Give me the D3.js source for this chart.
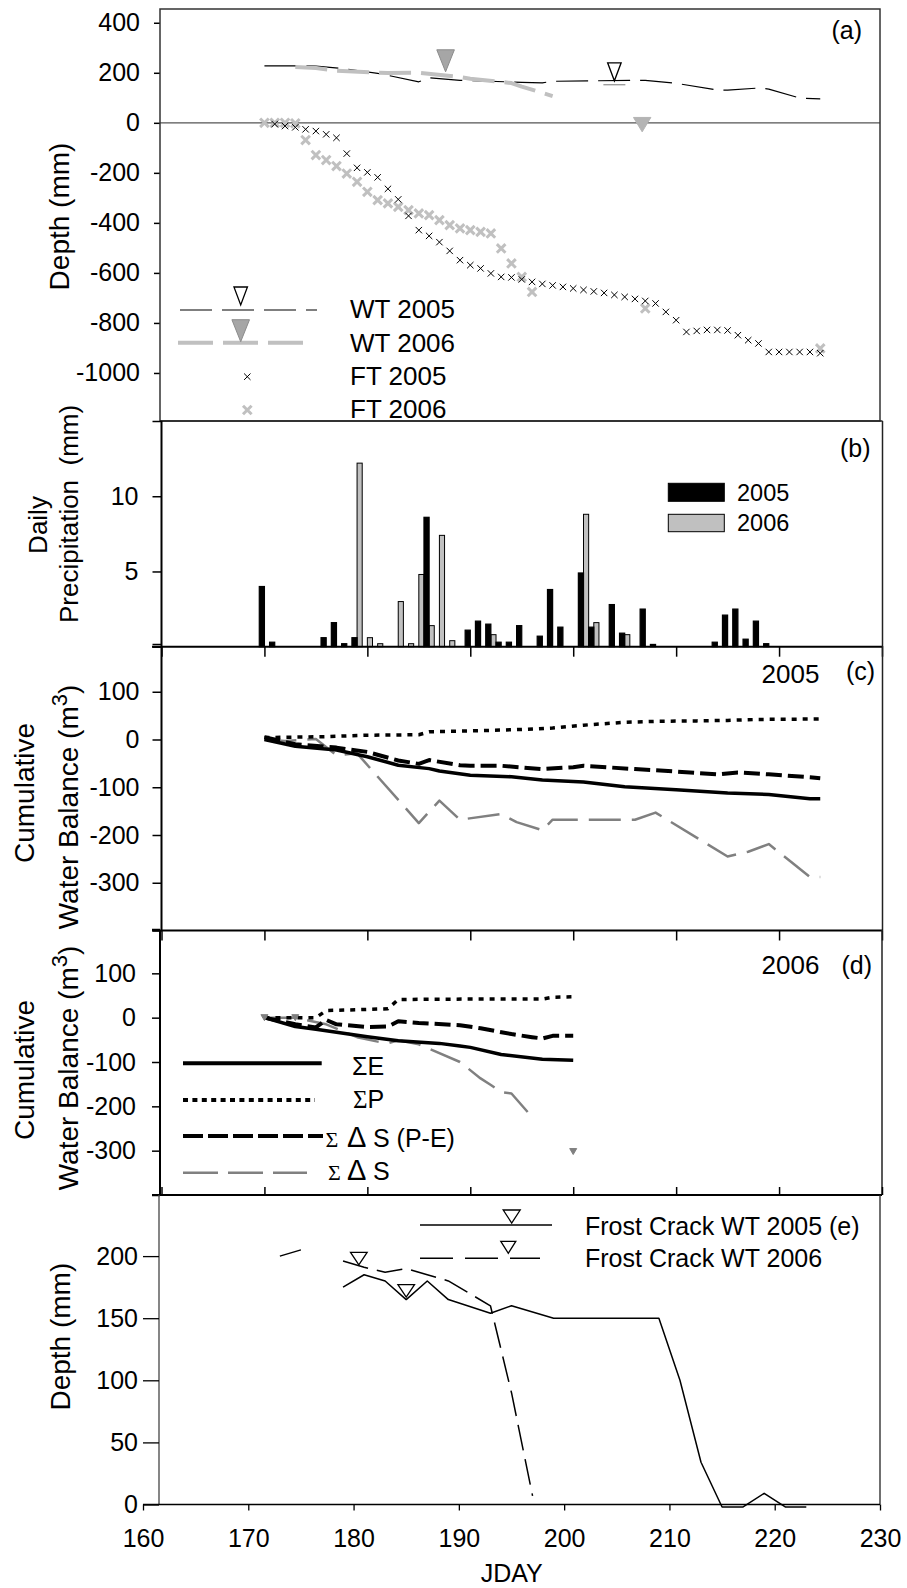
<!DOCTYPE html>
<html>
<head>
<meta charset="utf-8">
<script src="https://cdn.jsdelivr.net/npm/d3@7"></script>
<style>
  body { margin: 0; background: #fff; }
  text { font-family: "Liberation Sans", Arial, Helvetica, sans-serif; }
</style>
</head>
<body>
<svg id="chart"></svg>
<script>
// ---------- data (JDAY, values) ----------
// (a) water table (mm above frost table datum) and frost table depth
const wt05Days = [170, 172, 175, 178, 181, 185, 186, 189, 195, 197, 198, 202, 207, 210, 214, 215, 218, 219, 222, 224];
const wt05 = [228, 228, 227, 215, 198, 164, 180, 170, 162, 160, 166, 168, 170, 158, 131, 131, 139, 135, 99, 96];
const wt06Days = [173, 175, 177, 182, 185, 189, 190, 194, 195, 198];
const wt06 = [223, 219, 208, 199, 200, 183, 176, 159, 145, 107];
const ft05Days = [171, 172, 173, 174, 175, 176, 177, 178, 179, 180, 181, 182, 183, 184, 185, 186, 187, 188, 189, 190,
  191, 192, 193, 194, 195, 196, 197, 198, 199, 200, 201, 202, 203, 204, 205, 206, 207, 208, 209, 210,
  211, 212, 213, 214, 215, 216, 217, 218, 219, 220, 221, 222, 223, 224];
const ft05 = [-5, -13, -18, -26, -33, -46, -60, -123, -180, -198, -218, -264, -306, -372, -429, -452, -477, -512, -549, -569,
  -582, -602, -616, -618, -626, -636, -644, -650, -656, -662, -668, -674, -680, -688, -696, -704, -712, -722, -756, -789,
  -836, -832, -828, -828, -830, -849, -869, -882, -916, -916, -916, -916, -916, -921];
const ft06Days = [170, 171, 172, 173, 174, 175, 176, 177, 178, 179, 180, 181, 182, 183, 184, 185, 186, 187, 188, 189,
  190, 191, 192, 193, 194, 195, 196, 207, 224];
const ft06 = [0, 0, 0, -2, -69, -129, -149, -173, -203, -236, -276, -309, -322, -336, -349, -362, -369, -389, -409, -422,
  -429, -436, -442, -502, -562, -616, -676, -742, -902];
const wtMark05Days = [204];
const wtMark05 = [168];
const wtMark06Days = [187.6];
const wtMark06 = [204];
const ftMarkDays = [206.7];
const ftMark = [-36];

// (b) daily precipitation (mm)
const rain05Days = [170, 171, 176, 177, 178, 179, 186, 190, 191, 192, 193, 194, 195, 197, 198, 199, 201, 202, 204, 205,
  207, 208, 214, 215, 216, 217, 218, 219];
const rain05 = [4.0, 0.3, 0.6, 1.6, 0.2, 0.6, 8.6, 1.1, 1.7, 1.5, 0.3, 0.3, 1.4, 0.7, 3.8, 1.3, 4.9, 1.3, 2.8, 0.9,
  2.5, 0.15, 0.3, 2.1, 2.5, 0.5, 1.7, 0.2];
const rain06Days = [179, 180, 181, 183, 184, 185, 186, 187, 188, 192, 201, 202, 205];
const rain06 = [12.2, 0.6, 0.2, 3.0, 0.2, 4.8, 1.4, 7.4, 0.4, 0.8, 8.8, 1.6, 0.8];

// (c) cumulative water balance 2005 (m3)
const sE05Days = [170, 173, 177, 180, 183, 186, 187, 190, 194, 197, 201, 205, 210, 215, 219, 223, 224];
const sE05 = [0, -14, -22, -36, -54, -61, -66, -75, -78, -85, -89, -99, -105, -112, -115, -124, -124];
const sP05Days = [170, 176, 180, 185, 186, 190, 195, 198, 201, 203, 205, 208, 212, 215, 218, 224];
const sP05 = [4, 6, 9, 10, 16, 18, 21, 24, 30, 33, 36, 38, 39, 40, 42, 43];
const sPE05Days = [170, 173, 177, 180, 183, 185, 186, 189, 190, 193, 197, 200, 201, 206, 210, 214, 216, 219, 223, 224];
const sPE05 = [5, -10, -17, -26, -44, -51, -43, -54, -55, -55, -62, -58, -55, -62, -67, -73, -69, -73, -79, -81];
const sS05Days = [170, 172, 175, 177, 179, 185, 187, 189, 193, 194.5, 197, 198, 206, 208, 215, 217, 219, 223, 224];
const sS05 = [0, -3, 1, -33, -29, -175, -128, -168, -156, -173, -190, -168, -168, -153, -245, -235, -219, -288, -288];

// (d) cumulative water balance 2006 (m3)
const sE06Days = [170, 173, 175, 180, 183, 187, 189, 190, 193, 197, 200];
const sE06 = [0, -20, -26, -43, -52, -58, -64, -67, -83, -94, -96];
const sP06Days = [170, 175, 176, 182, 183, 190, 197, 198, 200];
const sP06 = [0, 0, 16, 20, 41, 42, 42, 46, 47];
const sPE06Days = [170, 173, 175, 176, 177, 180, 182, 183, 185, 189, 191, 194, 196, 197, 198, 200];
const sPE06 = [0, -15, -22, -5, -15, -21, -20, -8, -12, -17, -24, -37, -44, -47, -41, -41];
const sS06Days = [170, 173, 176, 179, 181, 182, 183, 185, 189, 191, 192, 193, 194, 196];
const sS06 = [0, 0, -15, -44, -54, -58, -51, -60, -100, -137, -152, -168, -171, -224];
const sSMarkDays = [170, 173, 200];
const sSMark = [0, 0, -302];

// (e) frost crack water table (mm)
const fc05Days = [179, 181, 183, 185, 187, 189, 193, 195, 199, 209, 211, 213, 215, 217, 219, 221, 223];
const fc05 = [175, 185, 180, 165, 180, 165, 154, 160, 150, 150, 100, 34, -2, -2, 9, -2, -2];
const fc06Days = [173, 175, 177, 179, 181, 183, 185, 187, 189, 193, 195, 197];
const fc06 = [200, 205, null, 196, 191, 187, 190, 185, 180, 160, 90, 7];
const fcMarkDays = [180.5, 185];
const fcMark = [193, 167];

const xTicks = [160, 170, 180, 190, 200, 210, 220, 230];

// ---------- setup ----------
const width = 907;
const height = 1588;
const font = '"Liberation Sans", Arial, Helvetica, sans-serif';
const serif = '"Liberation Serif", "Times New Roman", serif';
const lightGrey = "#c0c0c0";
const midGrey = "#808080";
const plain = (d) => String(d); // hyphen minus, no thousands comma

const svg = d3.select("#chart").attr("width", width).attr("height", height);
svg.append("rect").attr("width", width).attr("height", height).attr("fill", "#fff");

const x = d3.scaleLinear().domain([160, 230]).range([161.5, 882]);
const xE = d3.scaleLinear().domain([160, 230]).range([143, 880]);
const yA = d3.scaleLinear().domain([-1192, 455]).range([421, 9]);
const yB = d3.scaleLinear().domain([0, 15]).range([646.7, 421]);
const yC = d3.scaleLinear().domain([-400, 200]).range([930.5, 644]);
const yD = d3.scaleLinear().domain([-400, 200]).range([1195, 929]);
const yE = d3.scaleLinear().domain([0, 250]).range([1504.5, 1194]);

const pts = (days, vals) => days.map((d, i) => ({ d, v: vals[i] }));

const drawLine = (g, days, vals, xs, ys, color, w, dash) => {
  const line = d3.line().defined((p) => p.v !== null).x((p) => xs(p.d)).y((p) => ys(p.v));
  g.append("path")
    .datum(pts(days, vals))
    .attr("d", line)
    .attr("fill", "none")
    .attr("stroke", color)
    .attr("stroke-width", w)
    .attr("stroke-linejoin", "round")
    .attr("stroke-dasharray", dash || null);
};

const triPath = (cx, apexY, w, h) =>
  `M${cx - w / 2},${apexY - h}L${cx + w / 2},${apexY - h}L${cx},${apexY}Z`;

const crossPath = (r) => `M${-r},${-r}L${r},${r}M${-r},${r}L${r},${-r}`;

const styleAxis = (g, size) => {
  g.attr("font-family", font).attr("font-size", size);
  g.select(".domain").remove();
  g.selectAll("line").attr("stroke", "#000").attr("stroke-width", 1.5);
  g.selectAll("text").attr("fill", "#000");
};

const addText = (txt, tx, ty, size, anchor) =>
  svg.append("text")
    .attr("x", tx).attr("y", ty)
    .attr("font-size", size)
    .attr("text-anchor", anchor || "start")
    .text(txt);

const vLabel = (txt, tx, ty, size) =>
  svg.append("text")
    .attr("transform", `translate(${tx},${ty}) rotate(-90)`)
    .attr("text-anchor", "middle")
    .attr("font-size", size)
    .text(txt);

const frame = (x0, y0, x1, y1, color, w) =>
  svg.append("rect")
    .attr("x", x0).attr("y", y0)
    .attr("width", x1 - x0).attr("height", y1 - y0)
    .attr("fill", "none").attr("stroke", color).attr("stroke-width", w);

// ---------- panel (a) ----------
const gA = svg.append("g");
frame(160, 9, 880, 421, "#333", 1.5);
gA.append("line")
  .attr("x1", 160).attr("x2", 880)
  .attr("y1", yA(0)).attr("y2", yA(0))
  .attr("stroke", "#555").attr("stroke-width", 1.3);

gA.append("g")
  .attr("transform", "translate(160,0)")
  .call(d3.axisLeft(yA).tickValues(d3.range(-1000, 401, 200)).tickSize(6).tickPadding(14).tickFormat(plain))
  .call((g) => styleAxis(g, 25));

drawLine(gA, wt05Days, wt05, x, yA, "#000", 1.2, "32,10");
drawLine(gA, wt06Days, wt06, x, yA, lightGrey, 4, "32,10");

gA.selectAll(".ft06")
  .data(pts(ft06Days, ft06))
  .join("path")
  .attr("transform", (p) => `translate(${x(p.d)},${yA(p.v)})`)
  .attr("d", crossPath(4.3))
  .attr("stroke", lightGrey).attr("stroke-width", 3).attr("fill", "none");

gA.selectAll(".ft05")
  .data(pts(ft05Days, ft05))
  .join("path")
  .attr("transform", (p) => `translate(${x(p.d)},${yA(p.v)})`)
  .attr("d", crossPath(3.2))
  .attr("stroke", "#000").attr("stroke-width", 1).attr("fill", "none");

pts(wtMark05Days, wtMark05).forEach((p) => {
  gA.append("line")
    .attr("x1", x(p.d) - 11).attr("x2", x(p.d) + 11)
    .attr("y1", yA(p.v) + 4).attr("y2", yA(p.v) + 4)
    .attr("stroke", "#777").attr("stroke-width", 1);
  gA.append("path").attr("d", triPath(x(p.d), yA(p.v), 13.5, 18))
    .attr("fill", "#fff").attr("stroke", "#000").attr("stroke-width", 1.3);
});
pts(wtMark06Days, wtMark06).forEach((p) => {
  gA.append("path").attr("d", triPath(x(p.d), yA(p.v), 17.6, 22))
    .attr("fill", "#a6a6a6").attr("stroke", "#8c8c8c").attr("stroke-width", 1);
});
pts(ftMarkDays, ftMark).forEach((p) => {
  gA.append("path").attr("d", triPath(x(p.d), yA(p.v), 17.4, 14.4))
    .attr("fill", "#b4b4b4").attr("stroke", "#b4b4b4").attr("stroke-width", 1);
});

// legend (a)
gA.append("line").attr("x1", 180).attr("x2", 317).attr("y1", 310).attr("y2", 310)
  .attr("stroke", "#000").attr("stroke-width", 1.2).attr("stroke-dasharray", "32,10");
gA.append("path").attr("d", triPath(240.7, 305, 13.5, 18))
  .attr("fill", "#fff").attr("stroke", "#000").attr("stroke-width", 1.3);
gA.append("line").attr("x1", 178).attr("x2", 303).attr("y1", 342.7).attr("y2", 342.7)
  .attr("stroke", lightGrey).attr("stroke-width", 4).attr("stroke-dasharray", "35,10");
gA.append("path").attr("d", triPath(240.7, 341.7, 17.6, 22))
  .attr("fill", "#a6a6a6").attr("stroke", "#8c8c8c").attr("stroke-width", 1);
gA.append("path").attr("transform", "translate(247.3,376.7)").attr("d", crossPath(3.2))
  .attr("stroke", "#000").attr("stroke-width", 1).attr("fill", "none");
gA.append("path").attr("transform", "translate(247.3,410)").attr("d", crossPath(4.3))
  .attr("stroke", lightGrey).attr("stroke-width", 3).attr("fill", "none");
addText("WT 2005", 350, 318.3, 26);
addText("WT 2006", 350, 351.7, 26);
addText("FT 2005", 350, 385, 26);
addText("FT 2006", 350, 418.3, 26);
addText("(a)", 831.5, 38.5, 25);
vLabel("Depth (mm)", 69.3, 216.5, 28);

// ---------- panel (b) ----------
const gB = svg.append("g");
gB.append("line").attr("x1", 160).attr("x2", 882.5).attr("y1", 421).attr("y2", 421)
  .attr("stroke", "#222").attr("stroke-width", 1.5);
gB.append("line").attr("x1", 882.5).attr("x2", 882.5).attr("y1", 421).attr("y2", 646.7)
  .attr("stroke", "#222").attr("stroke-width", 1.5);
gB.append("line").attr("x1", 161.5).attr("x2", 161.5).attr("y1", 421).attr("y2", 646.7)
  .attr("stroke", "#000").attr("stroke-width", 2);

gB.selectAll(".r06")
  .data(pts(rain06Days, rain06))
  .join("rect")
  .attr("x", (p) => x(p.d))
  .attr("width", (p) => x(p.d + 0.5) - x(p.d))
  .attr("y", (p) => yB(p.v))
  .attr("height", (p) => yB(0) - yB(p.v))
  .attr("fill", lightGrey).attr("stroke", "#000").attr("stroke-width", 1);

gB.selectAll(".r05")
  .data(pts(rain05Days, rain05))
  .join("rect")
  .attr("x", (p) => x(p.d - 0.5))
  .attr("width", (p) => x(p.d) - x(p.d - 0.5))
  .attr("y", (p) => yB(p.v))
  .attr("height", (p) => yB(0) - yB(p.v))
  .attr("fill", "#000").attr("stroke", "#000").attr("stroke-width", 1.2);

gB.append("g")
  .attr("transform", "translate(161.5,0)")
  .call(d3.axisLeft(yB).tickValues([0, 5, 10, 15]).tickSize(9).tickPadding(14)
    .tickFormat((d) => (d === 5 || d === 10 ? plain(d) : "")))
  .call((g) => styleAxis(g, 25));

gB.append("g")
  .attr("transform", `translate(0,${yB(0)})`)
  .call(d3.axisBottom(x).tickValues(xTicks).tickSize(10).tickFormat(""))
  .call((g) => styleAxis(g, 25));
gB.append("line").attr("x1", 152).attr("x2", 882.5).attr("y1", yB(0)).attr("y2", yB(0))
  .attr("stroke", "#000").attr("stroke-width", 2);

// legend (b)
gB.append("rect").attr("x", 668.3).attr("y", 483.3).attr("width", 56).attr("height", 18)
  .attr("fill", "#000").attr("stroke", "#000");
gB.append("rect").attr("x", 668.3).attr("y", 514.3).attr("width", 56).attr("height", 17.4)
  .attr("fill", lightGrey).attr("stroke", "#000");
addText("2005", 737, 500.5, 23.5);
addText("2006", 737, 531.3, 23.5);
addText("(b)", 840, 456.5, 25);
vLabel("Daily", 47, 525, 26);
svg.append("text")
  .attr("transform", "translate(78,623) rotate(-90)")
  .attr("font-size", 26)
  .text("Precipitation\u00a0\u00a0(mm)");

// ---------- panel (c) ----------
const gC = svg.append("g");
gC.append("line").attr("x1", 882.5).attr("x2", 882.5).attr("y1", 646).attr("y2", 930.5)
  .attr("stroke", "#222").attr("stroke-width", 1.5);
gC.append("line").attr("x1", 161.5).attr("x2", 161.5).attr("y1", 646).attr("y2", 930.5)
  .attr("stroke", "#000").attr("stroke-width", 2);
gC.append("g")
  .attr("transform", "translate(161.5,0)")
  .call(d3.axisLeft(yC).tickValues(d3.range(-400, 201, 100)).tickSize(9).tickPadding(13)
    .tickFormat((d) => (d >= -300 && d <= 100 ? plain(d) : "")))
  .call((g) => styleAxis(g, 25));
gC.append("g")
  .attr("transform", `translate(0,${yC(-400)})`)
  .call(d3.axisBottom(x).tickValues(xTicks).tickSize(10).tickFormat(""))
  .call((g) => styleAxis(g, 25));
gC.append("line").attr("x1", 152).attr("x2", 882.5).attr("y1", yC(-400)).attr("y2", yC(-400))
  .attr("stroke", "#000").attr("stroke-width", 2);

drawLine(gC, sS05Days, sS05, x, yC, midGrey, 2.5, "32,11");
drawLine(gC, sP05Days, sP05, x, yC, "#000", 3.5, "5,6");
drawLine(gC, sPE05Days, sPE05, x, yC, "#000", 4, "16,6");
drawLine(gC, sE05Days, sE05, x, yC, "#000", 3.5);

addText("2005", 761.5, 683.3, 26);
addText("(c)", 846, 680, 25);

const wbLabel = (tx, ty) => {
  const t = svg.append("text")
    .attr("transform", `translate(${tx},${ty}) rotate(-90)`)
    .attr("text-anchor", "middle")
    .attr("font-size", 28);
  t.append("tspan").text("Water Balance (m");
  t.append("tspan").attr("dy", -11).attr("font-size", 22).text("3");
  t.append("tspan").attr("dy", 11).text(")");
};
vLabel("Cumulative", 33.5, 793, 28);
wbLabel(78, 807);

// ---------- panel (d) ----------
const gD = svg.append("g");
gD.append("line").attr("x1", 882).attr("x2", 882).attr("y1", 930).attr("y2", 1195)
  .attr("stroke", "#222").attr("stroke-width", 1.5);
gD.append("line").attr("x1", 160).attr("x2", 160).attr("y1", 930).attr("y2", 1195)
  .attr("stroke", "#000").attr("stroke-width", 2);
gD.append("g")
  .attr("transform", "translate(160,0)")
  .call(d3.axisLeft(yD).tickValues(d3.range(-400, 201, 100)).tickSize(8).tickPadding(16)
    .tickFormat((d) => (d >= -300 && d <= 100 ? plain(d) : "")))
  .call((g) => styleAxis(g, 25));
gD.append("g")
  .attr("transform", `translate(0,${yD(-400)})`)
  .call(d3.axisTop(x).tickValues(xTicks).tickSize(8).tickFormat(""))
  .call((g) => styleAxis(g, 25));
gD.append("line").attr("x1", 152).attr("x2", 882).attr("y1", yD(-400)).attr("y2", yD(-400))
  .attr("stroke", "#000").attr("stroke-width", 1.8);

drawLine(gD, sS06Days, sS06, x, yD, midGrey, 2.5, "32,11");
drawLine(gD, sP06Days, sP06, x, yD, "#000", 3.5, "5,6");
drawLine(gD, sPE06Days, sPE06, x, yD, "#000", 4, "16,6");
drawLine(gD, sE06Days, sE06, x, yD, "#000", 3.5);
pts(sSMarkDays, sSMark).forEach((p) => {
  gD.append("path").attr("d", triPath(x(p.d), yD(p.v) + 3, 7, 6))
    .attr("fill", midGrey).attr("stroke", midGrey).attr("stroke-width", 1);
});

addText("2006", 761.5, 973.5, 26);
addText("(d)", 841.5, 973.5, 25);
vLabel("Cumulative", 33.5, 1070, 28);
wbLabel(78, 1068);

// legend (c)/(d)
gD.append("line").attr("x1", 183).attr("x2", 321.7).attr("y1", 1063.3).attr("y2", 1063.3)
  .attr("stroke", "#000").attr("stroke-width", 4);
gD.append("line").attr("x1", 183).attr("x2", 315).attr("y1", 1100).attr("y2", 1100)
  .attr("stroke", "#000").attr("stroke-width", 4).attr("stroke-dasharray", "5,4.4");
gD.append("line").attr("x1", 183).attr("x2", 323).attr("y1", 1136).attr("y2", 1136)
  .attr("stroke", "#000").attr("stroke-width", 4).attr("stroke-dasharray", "20,5");
gD.append("line").attr("x1", 183).attr("x2", 307).attr("y1", 1172.7).attr("y2", 1172.7)
  .attr("stroke", midGrey).attr("stroke-width", 2.5).attr("stroke-dasharray", "35,10");

svg.append("text").attr("x", 352).attr("y", 1075).attr("font-size", 25)
  .attr("font-family", serif).text("ΣE");
const tP = svg.append("text").attr("x", 353).attr("y", 1108.3).attr("font-size", 25);
tP.append("tspan").attr("font-family", serif).text("Σ");
tP.append("tspan").text("P");
const tPE = svg.append("text").attr("y", 1146.7).attr("font-size", 25);
tPE.append("tspan").attr("x", 325.5).attr("font-family", serif).attr("font-size", 22).text("Σ");
tPE.append("tspan").attr("x", 347).attr("font-size", 29).text("Δ");
tPE.append("tspan").attr("x", 373).text("S (P-E)");
const tS = svg.append("text").attr("y", 1180).attr("font-size", 25);
tS.append("tspan").attr("x", 328).attr("font-family", serif).attr("font-size", 22).text("Σ");
tS.append("tspan").attr("x", 347).attr("font-size", 29).text("Δ");
tS.append("tspan").attr("x", 373).text("S");

// ---------- panel (e) ----------
const gE = svg.append("g");
gE.append("line").attr("x1", 159).attr("x2", 159).attr("y1", 1195).attr("y2", 1504.5)
  .attr("stroke", "#444").attr("stroke-width", 1.3);
gE.append("line").attr("x1", 880).attr("x2", 880).attr("y1", 1195).attr("y2", 1504.5)
  .attr("stroke", "#222").attr("stroke-width", 1.3);
gE.append("g")
  .attr("transform", "translate(159,0)")
  .call(d3.axisLeft(yE).tickValues([0, 50, 100, 150, 200]).tickSize(16).tickPadding(5).tickFormat(plain))
  .call((g) => styleAxis(g, 25));
gE.append("g")
  .attr("transform", `translate(0,${yE(0)})`)
  .call(d3.axisBottom(xE).tickValues(xTicks).tickSize(6).tickPadding(18.5).tickFormat(plain))
  .call((g) => styleAxis(g, 25));
gE.append("line").attr("x1", 143).attr("x2", 880).attr("y1", yE(0)).attr("y2", yE(0))
  .attr("stroke", "#000").attr("stroke-width", 1.3);
gE.selectAll("line").attr("stroke-width", 1.3);

drawLine(gE, fc06Days, fc06, xE, yE, "#000", 1.5, "26,9");
drawLine(gE, fc05Days, fc05, xE, yE, "#000", 1.5);
pts(fcMarkDays, fcMark).forEach((p) => {
  gE.append("path").attr("d", triPath(xE(p.d), yE(p.v), 16.6, 12.5))
    .attr("fill", "#fff").attr("stroke", "#000").attr("stroke-width", 1.3);
});

// legend (e)
gE.append("line").attr("x1", 420).attr("x2", 552).attr("y1", 1225).attr("y2", 1225)
  .attr("stroke", "#000").attr("stroke-width", 1.5);
gE.append("path").attr("d", triPath(511.7, 1223, 17, 13))
  .attr("fill", "#fff").attr("stroke", "#000").attr("stroke-width", 1.3);
gE.append("line").attr("x1", 420).attr("x2", 540).attr("y1", 1258.3).attr("y2", 1258.3)
  .attr("stroke", "#000").attr("stroke-width", 1.5).attr("stroke-dasharray", "33,12");
gE.append("path").attr("d", triPath(508.3, 1253.3, 15, 12))
  .attr("fill", "#fff").attr("stroke", "#000").attr("stroke-width", 1.3);
addText("Frost Crack WT 2005 (e)", 585, 1235, 25);
addText("Frost Crack WT 2006", 585, 1267, 25);
vLabel("Depth (mm)", 70, 1336.7, 28);
addText("JDAY", 511.7, 1581.7, 25, "middle");
</script>
</body>
</html>
